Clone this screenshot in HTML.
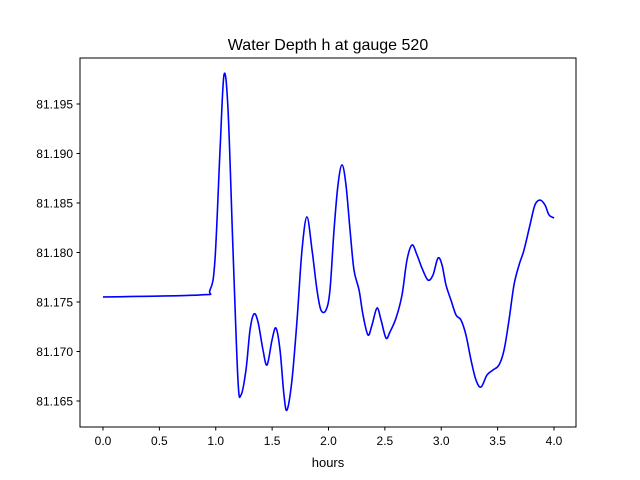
<!DOCTYPE html>
<html><head><meta charset="utf-8"><style>
body{margin:0;background:#fff;}
svg{display:block;font-family:"Liberation Sans","DejaVu Sans",sans-serif;}
</style></head><body>
<svg id="chart" width="640" height="480">
<rect width="640" height="480" fill="#fff"/>
<text x="328" y="50" text-anchor="middle" font-size="16">Water Depth h at gauge 520</text>
<g id="ticks"></g>
<path id="line" fill="none" stroke="#0000ff" stroke-width="1.6" stroke-linejoin="round"/>
<rect x="80" y="58" width="496" height="369" fill="none" stroke="#000" stroke-width="1"/>
<text x="328" y="467" text-anchor="middle" font-size="13">hours</text>
</svg>
<script>
const hours=[0,0.860,0.949,0.993,1.038,1.073,1.109,1.153,1.197,1.224,1.268,1.304,1.339,1.375,1.419,1.455,1.499,1.534,1.570,1.605,1.632,1.676,1.721,1.765,1.809,1.854,1.898,1.933,1.978,2.013,2.049,2.084,2.120,2.155,2.191,2.226,2.271,2.306,2.350,2.386,2.430,2.466,2.510,2.545,2.599,2.652,2.696,2.741,2.785,2.829,2.882,2.927,2.971,3.007,3.042,3.086,3.131,3.175,3.219,3.264,3.308,3.353,3.406,3.459,3.512,3.557,3.601,3.645,3.690,3.734,3.787,3.831,3.876,3.920,3.956,4.0];
const depth=[81.17551,81.17571,81.17621,81.17924,81.19035,81.19793,81.19439,81.18025,81.16712,81.16561,81.16813,81.17217,81.17379,81.17298,81.17015,81.16864,81.17116,81.17237,81.17015,81.16561,81.16409,81.16712,81.17318,81.18025,81.18359,81.18025,81.17621,81.17419,81.17419,81.17621,81.18227,81.18682,81.18884,81.18682,81.18227,81.17823,81.17621,81.17369,81.17167,81.17268,81.17439,81.17318,81.17136,81.17197,81.17338,81.17571,81.17924,81.18076,81.17975,81.17843,81.17722,81.17773,81.17944,81.17874,81.17672,81.17520,81.17369,81.17318,81.17167,81.16914,81.16712,81.16641,81.16763,81.16813,81.16864,81.17015,81.17318,81.17672,81.17874,81.18025,81.18278,81.18480,81.18530,81.18480,81.18379,81.18349];
const xTicks=[0,0.5,1,1.5,2,2.5,3,3.5,4];
const xTickLabels=["0.0","0.5","1.0","1.5","2.0","2.5","3.0","3.5","4.0"];
const yTicks=[81.165,81.170,81.175,81.180,81.185,81.190,81.195];
const yTickLabels=["81.165","81.170","81.175","81.180","81.185","81.190","81.195"];
const X=v=>103+(v-0)*112.75;
const Y=v=>104-(v-81.195)*9900;
const NS="http://www.w3.org/2000/svg";
const g=document.getElementById('ticks');
function mk(tag,attrs){const e=document.createElementNS(NS,tag);for(const k in attrs)e.setAttribute(k,attrs[k]);return e;}
xTicks.forEach((t,i)=>{
  const l=mk('line',{x1:X(t),x2:X(t),y1:427,y2:430.5,stroke:'#000'});
  
  
  g.appendChild(l);
  const tx=mk('text',{x:X(t),y:445,'text-anchor':'middle','font-size':12});
  tx.textContent=xTickLabels[i];
  
  
  g.appendChild(tx);
});
yTicks.forEach((t,i)=>{
  const l=mk('line',{x1:76.5,x2:80,y1:Y(t),y2:Y(t),stroke:'#000'});
  
  
  g.appendChild(l);
  const tx=mk('text',{x:73,y:Y(t)+4.5,'text-anchor':'end','font-size':12});
  tx.textContent=yTickLabels[i];
  
  
  g.appendChild(tx);
});
// Catmull-Rom smooth path
const pts=hours.map((h,i)=>[X(h),Y(depth[i])]);
let d='M'+pts[0][0]+','+pts[0][1];
for(let i=0;i<pts.length-1;i++){
  const p0=pts[Math.max(0,i-1)],p1=pts[i],p2=pts[i+1],p3=pts[Math.min(pts.length-1,i+2)];
  const c1=[p1[0]+(p2[0]-p0[0])/6,p1[1]+(p2[1]-p0[1])/6];
  const c2=[p2[0]-(p3[0]-p1[0])/6,p2[1]-(p3[1]-p1[1])/6];
  d+=' C'+c1[0]+','+c1[1]+' '+c2[0]+','+c2[1]+' '+p2[0]+','+p2[1];
}
document.getElementById('line').setAttribute('d',d);
</script>
</body></html>
